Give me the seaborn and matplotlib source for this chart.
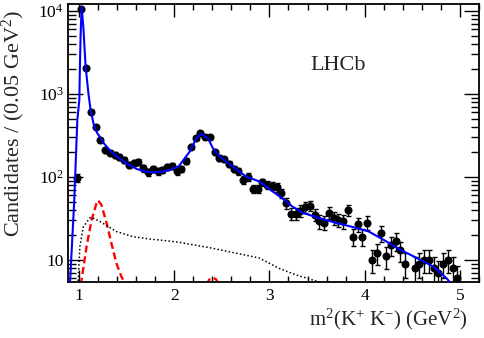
import numpy as np
import matplotlib
matplotlib.use("Agg")
import matplotlib.pyplot as plt
import seaborn as sns
from matplotlib.ticker import FixedLocator, FixedFormatter, MultipleLocator, LogLocator, NullFormatter

# data: candidates per 0.05 GeV^2 bin, bin centres from 0.975 GeV^2
bin_centres = np.arange(0.975, 5.0, 0.05)
counts = [97, 10500, 2070, 610, 400, 280, 211, 196, 184, 173,
          160, 140, 146, 153, 127, 113, 124, 116, 121, 131,
          136, 116, 124, 157, 232, 292, 342, 306, 301, 199,
          168, 163, 142, 124, 116, 92, 100, 72, 72, 86,
          80, 78, 75, 64, 48, 36, 36, 39, 43, 45,
          35, 29, 28, 37, 32, 30, 29, 40, 19, 27,
          19, 28, 10, 12, 21, 11, 15, 17, 13, 9,
          np.nan, 8, 9, 10, 10, 8, 7, 9, 10, 8,
          6]

# total fit (blue)
fit_x = [0.905, 0.95, 0.983, 1.004, 1.01, 1.018, 1.028, 1.046, 1.07, 1.10,
         1.122, 1.156, 1.19, 1.226, 1.26, 1.33, 1.40, 1.50, 1.608, 1.70,
         1.781, 1.87, 1.955, 2.05, 2.164, 2.233, 2.285, 2.354, 2.406, 2.476,
         2.615, 2.754, 2.893, 2.994, 3.135, 3.24, 3.344, 3.518, 3.692, 3.865,
         4.04, 4.2, 4.375, 4.549, 4.72, 4.86, 4.93]
fit_y = [5.0, 50, 486, 850, 2140, 5400, 11100, 6400, 2130, 1000,
         641, 424, 340, 295, 255, 205, 176, 145, 124, 116,
         113, 115, 121, 135, 202, 292, 330, 292, 222, 176,
         133, 101, 88, 72, 55, 44, 37, 32, 28, 25,
         22, 17.4, 13.2, 10.5, 8.3, 6.0, 4.8]

# resonant component (red dashed)
red1_x = [1.02, 1.08, 1.132, 1.184, 1.20, 1.236, 1.289, 1.34, 1.393, 1.445, 1.49]
red1_y = [5.0, 14.5, 30, 48, 52, 46, 28, 16, 9.1, 6.3, 5.0]
red2_x = [2.34, 2.37, 2.405, 2.44, 2.47]
red2_y = [5.0, 5.8, 6.1, 5.8, 5.0]

# background component (black dotted)
bkg_x = [0.99, 1.01, 1.046, 1.115, 1.132, 1.22, 1.393, 1.567, 1.74, 1.851,
         2.06, 2.372, 2.684, 2.893, 3.1, 3.275, 3.5, 3.6]
bkg_y = [5.0, 14.5, 25, 32, 32.4, 29, 21.9, 19, 17.8, 17.3,
         16.2, 14.0, 11.8, 10.5, 7.9, 6.6, 5.5, 5.0]

sns.set_style("ticks")
plt.rcParams['font.family'] = ['Liberation Serif', 'DejaVu Serif']
plt.rcParams['mathtext.fontset'] = 'custom'
plt.rcParams['mathtext.rm'] = 'Liberation Serif'
plt.rcParams['mathtext.it'] = 'Liberation Serif:italic'

fig = plt.figure(figsize=(4.84, 3.38), dpi=100)
ax = fig.add_axes([0.1405, 0.1657, 0.849, 0.8223])

counts_arr = np.array(counts, dtype=float)
ax.errorbar(bin_centres, counts_arr, yerr=np.sqrt(counts_arr), fmt='o', color='black',
            ms=4.8, capsize=1.8, elinewidth=1.0, capthick=1.0, zorder=2)

sns.lineplot(x=fit_x, y=fit_y, ax=ax, color='#0000ff', lw=1.5, sort=False, estimator=None, zorder=3)
sns.lineplot(x=red1_x, y=red1_y, ax=ax, color='red', lw=1.7, ls=(0, (3, 1.6)), sort=False, estimator=None, zorder=2.5)
sns.lineplot(x=red2_x, y=red2_y, ax=ax, color='red', lw=1.7, ls=(0, (3, 1.6)), sort=False, estimator=None, zorder=2.5)
sns.lineplot(x=bkg_x, y=bkg_y, ax=ax, color='black', lw=1.1, ls=(0, (1, 1.5)), sort=False, estimator=None, zorder=2.5)

ax.set_yscale('log')
ax.set_xlim(0.885, 5.2)
ax.set_ylim(5.4, 12100)

ax.xaxis.set_major_locator(MultipleLocator(1))
ax.xaxis.set_minor_locator(MultipleLocator(0.2))
ax.yaxis.set_major_locator(FixedLocator([10, 100, 1000, 10000]))
ax.yaxis.set_major_formatter(FixedFormatter(['10', '$10^{2}$', '$10^{3}$', '$10^{4}$']))
ax.yaxis.set_minor_locator(LogLocator(base=10, subs=np.arange(2, 10)))
ax.yaxis.set_minor_formatter(NullFormatter())

ax.tick_params(which='both', direction='in', top=True, right=True, width=1.0, labelsize=12.5, colors='black')
ax.tick_params(axis='x', which='major', length=9, pad=4)
ax.tick_params(axis='x', which='minor', length=4.5)
ax.tick_params(axis='y', which='major', length=11, pad=3)
ax.tick_params(axis='y', which='minor', length=6)
for s in ax.spines.values():
    s.set_linewidth(1.3)
    s.set_color('black')

ax.set_xlabel('m$^{2}$(K$^{+}$ K$^{-}$) (GeV$^{2}$)', fontsize=15, loc='right')
ax.set_ylabel('Candidates / (0.05 GeV$^{2}$)', fontsize=16, loc='top')
ax.xaxis.set_label_coords(0.973, -0.09)
ax.yaxis.set_label_coords(-0.10, 0.978)

ax.text(0.589, 0.78, 'LHCb', transform=ax.transAxes, fontsize=16, va='center', ha='left')

fig.savefig('out.png', dpi=100)
